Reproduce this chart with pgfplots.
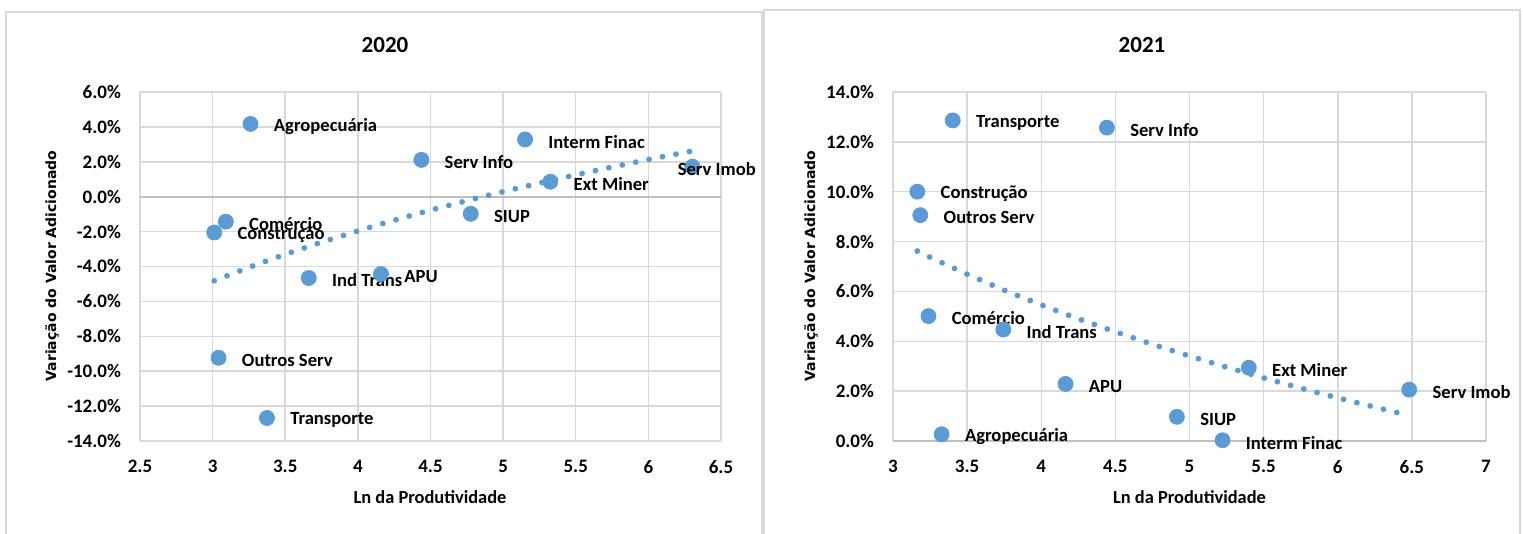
\documentclass[border=0pt]{standalone}
\usepackage{pgfplots}
\pgfplotsset{compat=1.18}
\usepackage{pgfplotstable}
\usepackage{fontspec}
\setmainfont{Carlito}
\newfontfamily\ylabfont{DejaVu Sans}
\definecolor{ptblue}{HTML}{5B9BD5}
\definecolor{gridgray}{HTML}{D9D9D9}
\definecolor{axgray}{HTML}{BFBFBF}
\definecolor{bordergray}{HTML}{D9D9D9}

\pgfplotstableread[col sep=comma]{
x,y,label,dx
3.261,4.17,Agropecuária,11.5
5.151,3.28,Interm Finac,11.5
4.437,2.11,Serv Info,11.5
6.303,1.72,Serv Imob,-7.5
5.325,0.86,Ext Miner,11.5
4.777,-0.98,SIUP,11.5
3.091,-1.43,Comércio,11.5
3.011,-2.05,Construção,11.5
3.662,-4.66,Ind Trans,11.5
4.159,-4.43,APU,11.5
3.041,-9.23,Outros Serv,11.5
3.374,-12.68,Transporte,11.5
}\tabA

\pgfplotstableread[col sep=comma]{
x,y,label,dx
3.403,12.86,Transporte,11.5
4.443,12.57,Serv Info,11.5
3.164,10.00,Construção,11.5
3.184,9.06,Outros Serv,11.5
3.239,5.01,Comércio,11.5
3.744,4.47,Ind Trans,11.5
5.400,2.94,Ext Miner,11.5
4.164,2.29,APU,11.5
6.482,2.06,Serv Imob,11.5
4.915,0.97,SIUP,11.5
3.328,0.27,Agropecuária,11.5
5.223,0.03,Interm Finac,11.5
}\tabB

\pgfplotsset{
  mystyle/.style={
    scale only axis, height=174.5pt,
    axis line style={draw=none},
    major tick style={draw=none},
    grid=major, grid style={gridgray, line width=0.75pt},
    tick label style={font=\bfseries\fontsize{9.5}{11}\selectfont, text=black},
    /pgf/number format/assume math mode=true,
    yticklabel={\pgfmathprintnumber[fixed,fixed zerofill,precision=1]{\tick}\%},
    xticklabel style={yshift=-6pt},
    yticklabel style={xshift=-6pt},
    extra y ticks={0}, extra y tick labels={},
    extra y tick style={grid style={axgray, line width=0.9pt}},
    clip=false,
  },
  trend/.style={ptblue, line width=2.9pt, dash pattern=on 0pt off 6.85pt, line cap=round},
  pts/.style={only marks, mark=*, mark size=3.75pt, color=ptblue,
    point meta=explicit symbolic, nodes near coords,
    visualization depends on={\thisrow{dx} \as \lblshift},
    every node near coord/.append style={anchor=west, xshift=\lblshift pt, yshift=-1.2pt, text=black,
      font=\bfseries\fontsize{9.3}{11}\selectfont, inner sep=0pt}},
}

\begin{document}
\begin{tikzpicture}
\path[use as bounding box] (0,0) rectangle (761.5pt,-267pt);
\draw[bordergray, line width=1pt] (3pt,-268pt) -- (3pt,-6pt) -- (381pt,-6pt) -- (381pt,-268pt);
\draw[bordergray, line width=1pt] (382pt,-268pt) -- (382pt,-5pt) -- (760pt,-5pt) -- (760pt,-268pt);

\node[font=\bfseries\fontsize{11.5}{13}\selectfont] at (192.5pt,-22.5pt) {2020};
\node[font=\bfseries\fontsize{11.5}{13}\selectfont] at (571pt,-22.5pt) {2021};
\node[font=\bfseries\fontsize{9.2}{11}\selectfont] at (215pt,-248.5pt) {Ln da Produtividade};
\node[font=\bfseries\fontsize{9.2}{11}\selectfont] at (594.75pt,-248.5pt) {Ln da Produtividade};
\node[rotate=90, font=\ylabfont\bfseries\fontsize{7}{8}\selectfont] at (26pt,-133pt) {Variação do Valor Adicionado};
\node[rotate=90, font=\ylabfont\bfseries\fontsize{7}{8}\selectfont] at (405.5pt,-133pt) {Variação do Valor Adicionado};

\begin{axis}[mystyle, width=290.5pt, at={(70pt,-220.5pt)}, anchor=south west,
  xmin=2.5, xmax=6.5, ymin=-14, ymax=6,
  xtick={2.5,3,3.5,4,4.5,5,5.5,6,6.5}, ytick={-14,-12,-10,-8,-6,-4,-2,0,2,4,6}]
\addplot[trend] coordinates {(3.011,-4.82)(3.25,-4.05)(3.5,-3.30)(3.75,-2.61)(4.0,-1.96)(4.25,-1.35)(4.5,-0.77)(4.75,-0.23)(5.0,0.29)(5.25,0.78)(5.5,1.25)(5.75,1.70)(6.0,2.13)(6.303,2.62)};
\addplot[pts] table[x=x, y=y, meta=label] {\tabA};
\end{axis}

\begin{axis}[mystyle, width=296.5pt, at={(446.5pt,-220.5pt)}, anchor=south west,
  xmin=3, xmax=7, ymin=0, ymax=14,
  xtick={3,3.5,4,4.5,5,5.5,6,6.5,7}, ytick={0,2,4,6,8,10,12,14}]
\addplot[trend] coordinates {(3.164,7.62)(3.25,7.37)(3.5,6.69)(3.75,6.05)(4.0,5.46)(4.25,4.90)(4.5,4.38)(4.75,3.88)(5.0,3.41)(5.25,2.96)(5.5,2.53)(5.75,2.12)(6.0,1.73)(6.25,1.36)(6.482,1.02)};
\addplot[pts] table[x=x, y=y, meta=label] {\tabB};
\end{axis}
\end{tikzpicture}
\end{document}
